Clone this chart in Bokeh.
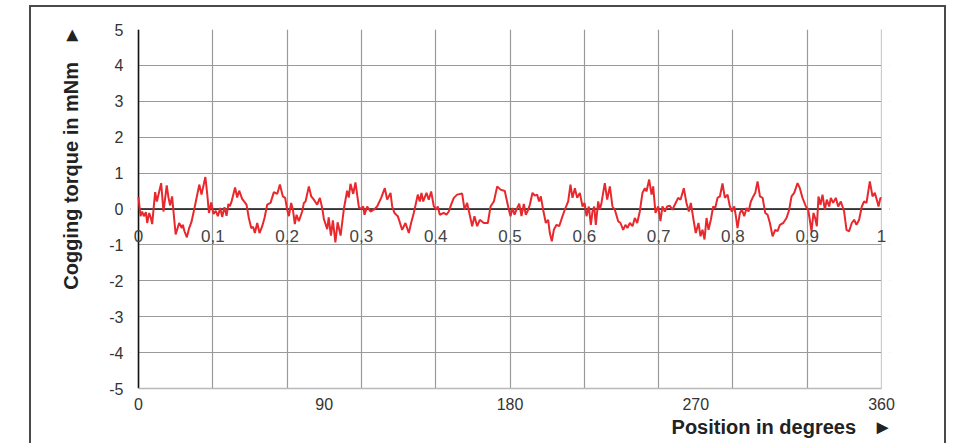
from bokeh.plotting import figure
from bokeh.models import (Range1d, LinearAxis, FixedTicker, Grid, Span,
                          Label, BoxAnnotation, Title, Div)
from bokeh.layouts import column
from bokeh.embed import file_html
from bokeh.resources import INLINE

# ---- data (position as fraction of one revolution, torque in mNm) ----
position = [
    0.0000, 0.0027, 0.0049, 0.0072, 0.0099, 0.0117, 0.0144, 0.0166, 0.0184, 0.0224,
    0.0247, 0.0305, 0.0336, 0.0380, 0.0404, 0.0425, 0.0452, 0.0500, 0.0547, 0.0583,
    0.0597, 0.0619, 0.0651, 0.0682, 0.0713, 0.0763, 0.0818, 0.0848, 0.0900, 0.0925,
    0.0948, 0.0978, 0.1010, 0.1040, 0.1068, 0.1100, 0.1126, 0.1157, 0.1185, 0.1210,
    0.1230, 0.1250, 0.1300, 0.1328, 0.1355, 0.1395, 0.1454, 0.1485, 0.1517, 0.1544,
    0.1566, 0.1598, 0.1629, 0.1665, 0.1696, 0.1732, 0.1777, 0.1822, 0.1867, 0.1903,
    0.1943, 0.1974, 0.2001, 0.2024, 0.2055, 0.2078, 0.2104, 0.2127, 0.2158, 0.2203,
    0.2226, 0.2248, 0.2293, 0.2325, 0.2360, 0.2405, 0.2441, 0.2475, 0.2495, 0.2540,
    0.2560, 0.2590, 0.2616, 0.2650, 0.2680, 0.2720, 0.2764, 0.2808, 0.2830, 0.2853,
    0.2890, 0.2920, 0.2966, 0.2997, 0.3024, 0.3042, 0.3078, 0.3122, 0.3167, 0.3212,
    0.3266, 0.3315, 0.3347, 0.3392, 0.3414, 0.3445, 0.3490, 0.3549, 0.3593, 0.3638,
    0.3669, 0.3705, 0.3759, 0.3786, 0.3809, 0.3831, 0.3876, 0.3907, 0.3939, 0.3975,
    0.4010, 0.4028, 0.4055, 0.4109, 0.4145, 0.4176, 0.4208, 0.4244, 0.4289, 0.4356,
    0.4388, 0.4423, 0.4491, 0.4522, 0.4558, 0.4594, 0.4648, 0.4702, 0.4738, 0.4783,
    0.4828, 0.4872, 0.4930, 0.4980, 0.5007, 0.5034, 0.5061, 0.5088, 0.5124, 0.5155,
    0.5186, 0.5213, 0.5245, 0.5267, 0.5303, 0.5334, 0.5365, 0.5392, 0.5415, 0.5446,
    0.5482, 0.5514, 0.5536, 0.5563, 0.5590, 0.5626, 0.5662, 0.5707, 0.5738, 0.5783,
    0.5814, 0.5841, 0.5873, 0.5904, 0.5940, 0.5976, 0.6003, 0.6030, 0.6061, 0.6088,
    0.6110, 0.6133, 0.6155, 0.6187, 0.6209, 0.6231, 0.6276, 0.6308, 0.6344, 0.6379,
    0.6411, 0.6456, 0.6487, 0.6523, 0.6554, 0.6581, 0.6613, 0.6649, 0.6680, 0.6712,
    0.6747, 0.6783, 0.6815, 0.6837, 0.6873, 0.6905, 0.6927, 0.6958, 0.6994, 0.7025,
    0.7052, 0.7084, 0.7115, 0.7151, 0.7187, 0.7218, 0.7263, 0.7295, 0.7339, 0.7375,
    0.7407, 0.7434, 0.7470, 0.7500, 0.7537, 0.7564, 0.7591, 0.7618, 0.7645, 0.7672,
    0.7703, 0.7735, 0.7762, 0.7793, 0.7825, 0.7860, 0.7892, 0.7928, 0.7959, 0.7986,
    0.8018, 0.8040, 0.8062, 0.8094, 0.8121, 0.8152, 0.8184, 0.8211, 0.8242, 0.8274,
    0.8301, 0.8332, 0.8364, 0.8400, 0.8435, 0.8467, 0.8498, 0.8534, 0.8570, 0.8601,
    0.8632, 0.8677, 0.8722, 0.8758, 0.8789, 0.8825, 0.8870, 0.8901, 0.8937, 0.8982,
    0.9013, 0.9035, 0.9058, 0.9085, 0.9107, 0.9130, 0.9152, 0.9179, 0.9206, 0.9237,
    0.9264, 0.9296, 0.9318, 0.9349, 0.9385, 0.9417, 0.9453, 0.9497, 0.9529, 0.9564,
    0.9600, 0.9632, 0.9663, 0.9699, 0.9735, 0.9766, 0.9798, 0.9843, 0.9879, 0.9910,
    0.9937, 0.9960, 0.9985, 1.0000,
]
torque = [
    0.33, -0.20, -0.07, -0.20, -0.09, -0.39, -0.11, -0.25, -0.42, 0.47,
    0.21, 0.72, -0.07, 0.66, 0.31, 0.10, 0.35, -0.71, -0.39, -0.53,
    -0.44, -0.62, -0.79, -0.53, -0.36, 0.12, 0.68, 0.40, 0.89, 0.42,
    -0.11, 0.18, -0.14, -0.05, -0.20, 0.03, -0.22, 0.05, -0.19, 0.14,
    0.08, 0.19, 0.60, 0.32, 0.51, 0.28, 0.12, -0.25, -0.53, -0.50,
    -0.67, -0.39, -0.67, -0.48, -0.25, 0.12, 0.17, 0.47, 0.42, 0.68,
    0.35, 0.31, -0.02, -0.20, 0.17, -0.02, -0.42, -0.16, -0.34, -0.07,
    0.17, 0.21, 0.63, 0.35, 0.26, 0.12, 0.31, 0.00, -0.28, -0.56,
    -0.23, -0.74, -0.32, -0.93, -0.37, -0.74, 0.00, 0.51, 0.32, 0.70,
    0.42, 0.74, 0.05, 0.00, 0.07, -0.16, 0.07, -0.07, -0.02, 0.07,
    0.31, 0.58, 0.26, 0.45, 0.07, -0.11, -0.20, -0.58, -0.39, -0.67,
    -0.39, -0.11, 0.40, 0.21, 0.45, 0.21, 0.45, 0.26, 0.49, 0.07,
    -0.02, 0.07, -0.16, -0.11, -0.16, -0.07, 0.12, 0.31, 0.40, 0.43,
    -0.02, 0.17, -0.48, -0.20, -0.48, -0.30, -0.39, -0.39, 0.07, 0.21,
    0.63, 0.54, 0.50, 0.02, -0.20, 0.03, -0.16, -0.02, 0.15, -0.20,
    0.14, -0.16, -0.02, 0.12, 0.45, 0.37, 0.40, 0.21, 0.35, -0.02,
    -0.39, -0.30, -0.67, -0.90, -0.58, -0.44, -0.48, -0.20, -0.02, 0.21,
    0.68, 0.31, 0.58, 0.31, 0.45, 0.07, 0.17, -0.20, 0.07, -0.44,
    -0.07, 0.07, -0.44, 0.21, -0.02, 0.17, 0.72, 0.26, 0.63, 0.07,
    -0.02, -0.34, -0.39, -0.58, -0.44, -0.53, -0.39, -0.48, -0.25, -0.39,
    -0.07, 0.45, 0.58, 0.49, 0.82, 0.40, 0.63, -0.11, 0.07, -0.34,
    0.07, -0.07, 0.07, 0.09, -0.02, 0.12, 0.31, 0.26, 0.58, 0.17,
    -0.07, 0.17, -0.30, -0.67, -0.39, -0.76, -0.58, -0.85, -0.25, -0.58,
    -0.30, 0.07, 0.03, 0.31, 0.35, 0.71, 0.31, 0.40, 0.07, -0.07,
    0.07, -0.20, -0.53, -0.11, -0.02, -0.20, 0.03, -0.07, 0.21, 0.35,
    0.45, 0.77, 0.35, 0.31, -0.11, -0.16, -0.39, -0.76, -0.58, -0.62,
    -0.44, -0.39, -0.25, -0.02, 0.35, 0.45, 0.72, 0.58, 0.31, 0.07,
    -0.02, -0.30, -0.62, -0.11, -0.25, -0.48, 0.35, 0.12, 0.40, -0.02,
    0.26, 0.07, 0.31, 0.17, 0.31, 0.07, 0.21, -0.07, -0.58, -0.62,
    -0.39, -0.30, -0.44, -0.30, 0.07, 0.21, 0.17, 0.77, 0.35, 0.45,
    0.26, 0.07, 0.31, 0.30,
]

y_ticks = [-5, -4, -3, -2, -1, 0, 1, 2, 3, 4, 5]
deg_ticks = [0, 90, 180, 270, 360]
frac_ticks = [0.0, 0.1, 0.2, 0.3, 0.4, 0.5, 0.6, 0.7, 0.8, 0.9, 1.0]
frac_labels = ["0", "0,1", "0,2", "0,3", "0,4", "0,5", "0,6", "0,7", "0,8", "0,9", "1"]

x_title = "Position in degrees\u00a0\u00a0\u00a0\u25ba"
y_title = "Cogging torque in mNm\u00a0\u00a0\u00a0\u25ba"

FONT = "Liberation Sans"
TICK_COLOR = "#333333"
GRID_COLOR = "#9a9a9a"

W, H = 946, 444
FL, FR, FT, FB = 138, 881, 29, 388     # visible plot area edges (px)
PAD = 8                                # extra frame room so end labels are not clipped
pad = PAD / (FR - FL)
x0, x1 = -pad, 1 + pad

p = figure(width=W, height=H,
           x_range=Range1d(x0, x1), y_range=Range1d(-5, 5),
           x_axis_location=None,
           output_backend="svg", toolbar_location=None,
           min_border_left=FL - PAD, min_border_right=W - FR - PAD,
           min_border_top=FT, min_border_bottom=H - FB)
p.outline_line_color = None
p.background_fill_color = "white"
p.border_fill_color = "white"

p.extra_x_ranges = {"deg": Range1d(x0 * 360, x1 * 360)}
xaxis = LinearAxis(x_range_name="deg", ticker=FixedTicker(ticks=deg_ticks),
                   bounds=(deg_ticks[0], deg_ticks[-1]))
p.add_layout(xaxis, "below")

yaxis = p.yaxis[0]
yaxis.ticker = FixedTicker(ticks=y_ticks)
yaxis.major_label_overrides = {t: str(t) for t in y_ticks}

for ax in (xaxis, yaxis):
    ax.major_tick_line_color = None
    ax.minor_tick_line_color = None
    ax.major_tick_out = 0
    ax.major_tick_in = 0
    ax.major_label_text_font = FONT
    ax.major_label_text_font_size = "16px"
    ax.major_label_text_color = TICK_COLOR

xaxis.axis_line_color = "#b8b8b8"
xaxis.axis_line_width = 1.5
xaxis.major_label_standoff = 9
yaxis.axis_line_color = None
yaxis.major_label_standoff = 7

# axis titles as side titles (right aligned, like the reference)
title_style = dict(text_font=FONT, text_font_size="20px",
                   text_font_style="bold", text_color="#222222")
p.add_layout(Title(text=x_title, align="right", offset=-3, standoff=3,
                   **title_style), "below")
p.add_layout(Title(text=y_title, align="right", offset=-4, standoff=50,
                   **title_style), "left")

# grids
p.ygrid.grid_line_color = GRID_COLOR
p.ygrid.grid_line_width = 1.2
xgrid = Grid(dimension=0, ticker=FixedTicker(ticks=frac_ticks),
             grid_line_color=GRID_COLOR, grid_line_width=1.2)
p.add_layout(xgrid)

# zero line
p.add_layout(Span(location=0, dimension="width", line_color="#111111",
                  line_width=1.6, level="underlay"))

# blank the padding strips at both ends of the frame
p.add_layout(BoxAnnotation(left=x0, right=0, bottom=-5, top=5, fill_color="white",
                           fill_alpha=1, line_color=None, level="underlay"))
p.add_layout(BoxAnnotation(left=1, right=x1, bottom=-5, top=5, fill_color="white",
                           fill_alpha=1, line_color=None, level="underlay"))

# black vertical axis line at position 0
p.add_layout(Span(location=0, dimension="height", line_color="#111111",
                  line_width=1.6, level="underlay"))

# curve
p.line(position, torque, line_color="#e8282d", line_width=2)

# fraction labels along the zero line
for xv, txt in zip(frac_ticks, frac_labels):
    p.add_layout(Label(x=xv, y=0, text=txt, y_offset=-27,
                       text_align="center", text_baseline="middle",
                       text_font=FONT, text_font_size="17px", text_color="#444444"))

# outer frame line (left, top, right) drawn as an overlay element
frame_div = Div(text="", width=917, height=438,
                styles={"position": "absolute", "left": "24px", "top": "0px",
                        "border-left": "2px solid #4a4a4a",
                        "border-top": "2px solid #4a4a4a",
                        "border-right": "2px solid #4a4a4a",
                        "pointer-events": "none", "z-index": "5"})

layout = column(p, frame_div)
open("out.html", "w").write(file_html(layout, INLINE))
